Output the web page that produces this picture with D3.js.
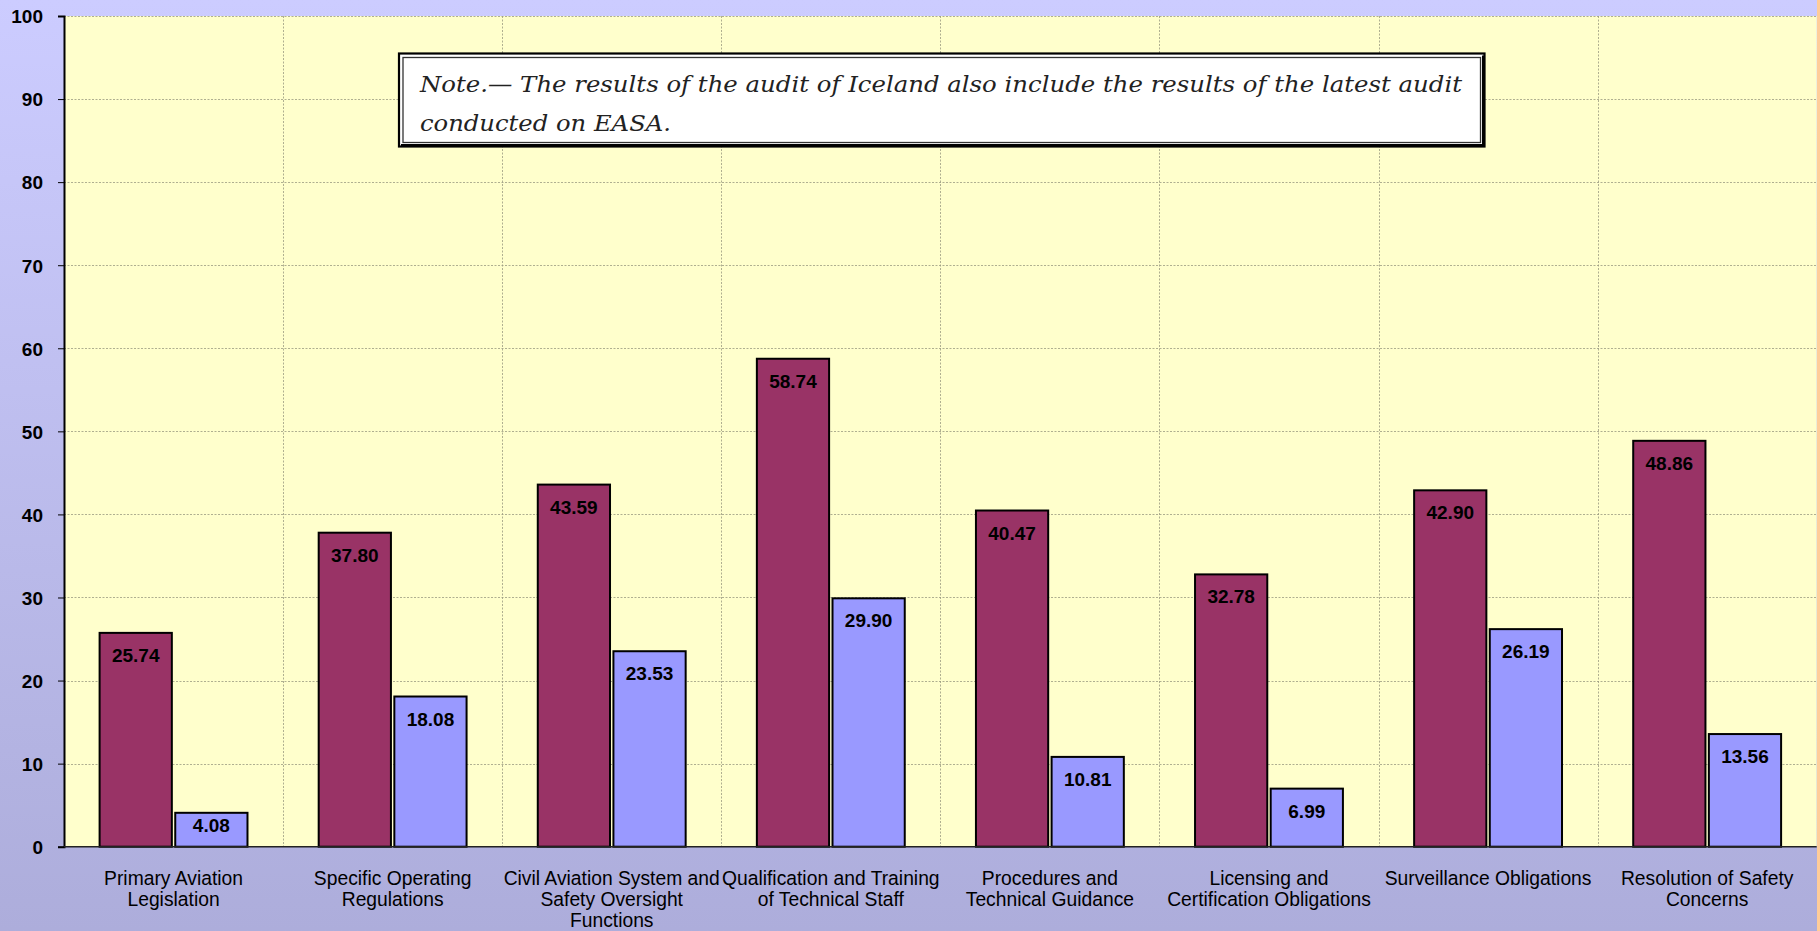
<!DOCTYPE html>
<html>
<head>
<meta charset="utf-8">
<script src="https://cdn.jsdelivr.net/npm/d3@7/dist/d3.min.js"></script>
<style>
html, body { margin: 0; padding: 0; overflow: hidden; background: #ccccff; }
svg { display: block; }
</style>
</head>
<body>
<svg id="chart" width="1820" height="931"></svg>
<script>
const categories = [
  ["Primary Aviation", "Legislation"],
  ["Specific Operating", "Regulations"],
  ["Civil Aviation System and", "Safety Oversight", "Functions"],
  ["Qualification and Training", "of Technical Staff"],
  ["Procedures and", "Technical Guidance"],
  ["Licensing and", "Certification Obligations"],
  ["Surveillance Obligations"],
  ["Resolution of Safety", "Concerns"]
];
const seriesA = [25.74, 37.80, 43.59, 58.74, 40.47, 32.78, 42.90, 48.86];
const seriesB = [4.08, 18.08, 23.53, 29.90, 10.81, 6.99, 26.19, 13.56];
const yTicks = [0, 10, 20, 30, 40, 50, 60, 70, 80, 90, 100];
const noteLines = [
  "Note.\u2014 The results of the audit of Iceland also include the results of the latest audit",
  "conducted on EASA."
];

(function () {
const W = 1820, H = 931;
const pL = 64, pR = 1816.7, pT = 16, pB = 846.7;
const svg = d3.select("#chart");

const defs = svg.append("defs");
const grad = defs.append("linearGradient").attr("id", "bg").attr("x1", 0).attr("y1", 0).attr("x2", 0).attr("y2", 1);
grad.append("stop").attr("offset", "0%").attr("stop-color", "#ccccff");
grad.append("stop").attr("offset", "100%").attr("stop-color", "#adaddb");
svg.append("rect").attr("width", W).attr("height", H).attr("fill", "url(#bg)");
svg.append("rect").attr("x", 1817).attr("y", 0).attr("width", 3).attr("height", H).attr("fill", "#ffcc99");

// plot area
svg.append("rect").attr("x", pL).attr("y", pT).attr("width", pR - pL).attr("height", pB - pT).attr("fill", "#ffffcc");

const idx = d3.range(categories.length);
const x = d3.scaleBand().domain(idx).range([pL, pR]).paddingInner(0).paddingOuter(0);
const y = d3.scaleLinear().domain([0, 100]).range([pB, pT]);
const bw = x.bandwidth();
const x1 = d3.scaleBand().domain(["A", "B"]).range([bw * 0.1625, bw * 0.8375]).paddingInner(0.045);

// gridlines
const grid = svg.append("g").attr("stroke", "#9a9a80").attr("stroke-width", 0.8).attr("stroke-dasharray", "2,1.5");
yTicks.filter(t => t > 0).forEach(t => {
  grid.append("line").attr("x1", pL).attr("x2", pR).attr("y1", Math.round(y(t)) + 0.5).attr("y2", Math.round(y(t)) + 0.5);
});
idx.slice(1).forEach(i => {
  const gx = Math.round(x(i)) + 0.5;
  grid.append("line").attr("x1", gx).attr("x2", gx).attr("y1", pT).attr("y2", pB);
});

// bars
const series = [{key: "A", values: seriesA, color: "#993366"}, {key: "B", values: seriesB, color: "#9999ff"}];
const barG = svg.append("g");
series.forEach(s => {
  idx.forEach(i => {
    const v = s.values[i];
    const bx = x(i) + x1(s.key);
    barG.append("rect")
      .attr("x", bx).attr("y", y(v))
      .attr("width", x1.bandwidth()).attr("height", y(0) - y(v))
      .attr("fill", s.color).attr("stroke", "#000").attr("stroke-width", 2);
    const by = Math.min(y(v) + 29, y(0) - 15);
    barG.append("text")
      .attr("x", bx + x1.bandwidth() / 2).attr("y", by)
      .attr("text-anchor", "middle")
      .attr("font-family", "Liberation Sans, Arial, sans-serif")
      .attr("font-weight", "bold").attr("font-size", 19)
      .attr("fill", "#000")
      .text(v.toFixed(2));
  });
});

// axes
const yAxis = d3.axisLeft(y).tickValues(yTicks).tickSize(6).tickPadding(15).tickFormat(d3.format("d"));
const ya = svg.append("g").attr("transform", `translate(${pL},0)`).call(yAxis);
ya.select(".domain").attr("stroke", "#000").attr("stroke-width", 2);
ya.selectAll(".tick line").attr("stroke", "#000");
ya.selectAll(".tick text").attr("font-family", "Liberation Sans, Arial, sans-serif").attr("font-weight", "bold").attr("font-size", 19).attr("fill", "#000").attr("dy", "0.36em");

svg.append("line").attr("x1", pL).attr("x2", pR).attr("y1", pB).attr("y2", pB).attr("stroke", "#222").attr("stroke-width", 1.5);

const xa = svg.append("g");
idx.forEach(i => {
  const t = xa.append("text")
    .attr("x", x(i) + bw / 2).attr("y", 884.5)
    .attr("text-anchor", "middle")
    .attr("font-family", "Liberation Sans, Arial, sans-serif")
    .attr("font-size", 19.3).attr("fill", "#000");
  categories[i].forEach((line, k) => {
    t.append("tspan").attr("x", x(i) + bw / 2).attr("dy", k === 0 ? 0 : 21.4).text(line);
  });
});

// note box
const nb = {x: 399, y: 53.5, w: 1085.5, h: 93};
const note = svg.append("g");
note.append("rect").attr("x", nb.x).attr("y", nb.y).attr("width", nb.w).attr("height", nb.h).attr("fill", "#fff").attr("stroke", "#000").attr("stroke-width", 2.2);
note.append("rect").attr("x", nb.x + 4).attr("y", nb.y + 4).attr("width", nb.w - 8).attr("height", nb.h - 8).attr("fill", "none").attr("stroke", "#333").attr("stroke-width", 1.3);
note.append("line").attr("x1", nb.x + nb.w - 1.5).attr("x2", nb.x + nb.w - 1.5).attr("y1", nb.y + 2).attr("y2", nb.y + nb.h).attr("stroke", "#000").attr("stroke-width", 2);
note.append("line").attr("x1", nb.x + 2).attr("x2", nb.x + nb.w).attr("y1", nb.y + nb.h - 1.5).attr("y2", nb.y + nb.h - 1.5).attr("stroke", "#000").attr("stroke-width", 2);

const t1 = note.append("text").attr("x", 420).attr("y", 92)
  .attr("font-family", "DejaVu Serif, serif").attr("font-style", "italic").attr("font-size", 23).attr("fill", "#222")
  .text(noteLines[0]);
const t2 = note.append("text").attr("x", 420).attr("y", 131)
  .attr("font-family", "DejaVu Serif, serif").attr("font-style", "italic").attr("font-size", 23).attr("fill", "#222")
  .text(noteLines[1]);
t1.attr("textLength", 1042).attr("lengthAdjust", "spacingAndGlyphs");
t2.attr("textLength", 251).attr("lengthAdjust", "spacingAndGlyphs");
})();
</script>
</body>
</html>
